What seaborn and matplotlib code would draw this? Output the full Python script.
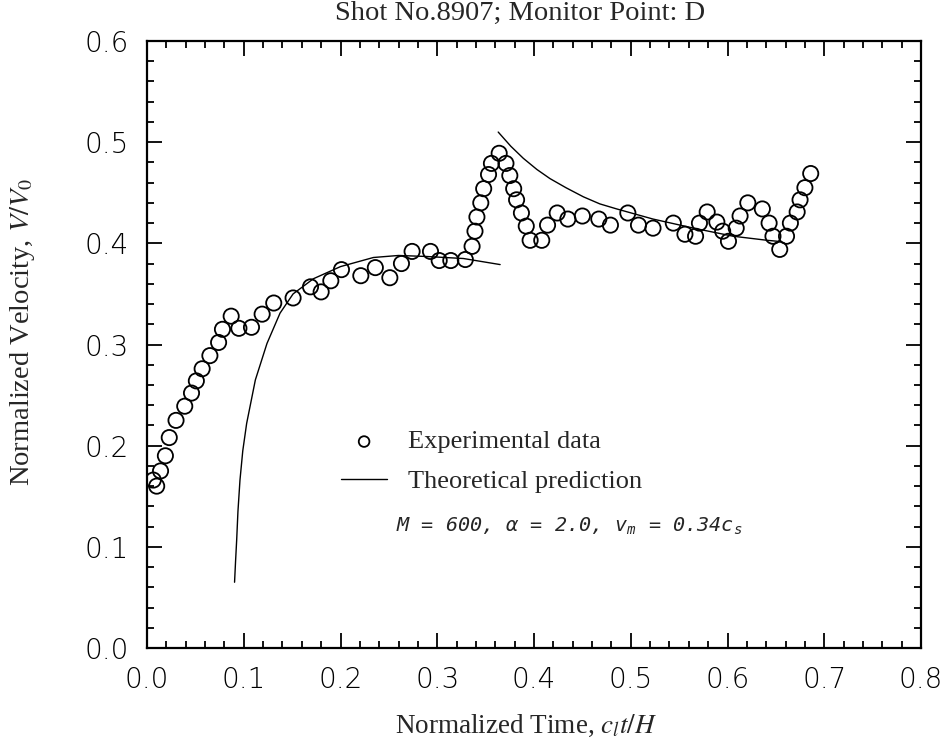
import matplotlib
matplotlib.use("Agg")
import matplotlib.pyplot as plt
import seaborn as sns
import pandas as pd
from matplotlib.ticker import MultipleLocator

# ---------------- data ----------------
exp_t = [0.0065, 0.010, 0.014, 0.019, 0.023, 0.030, 0.039, 0.046, 0.051, 0.057,
         0.065, 0.074, 0.078, 0.087, 0.095, 0.108, 0.119, 0.131, 0.151, 0.169,
         0.180, 0.190, 0.201, 0.221, 0.236, 0.251, 0.263, 0.274, 0.293, 0.302,
         0.314, 0.329, 0.336, 0.339, 0.341, 0.345, 0.348, 0.353, 0.356, 0.364,
         0.371, 0.375, 0.379, 0.382, 0.387, 0.392, 0.396, 0.408, 0.414, 0.424,
         0.435, 0.450, 0.467, 0.479, 0.497, 0.508, 0.523, 0.544, 0.556, 0.567,
         0.571, 0.579, 0.589, 0.595, 0.601, 0.609, 0.613, 0.621, 0.636, 0.643,
         0.647, 0.654, 0.661, 0.665, 0.672, 0.675, 0.680, 0.686]
exp_v = [0.166, 0.160, 0.175, 0.190, 0.208, 0.225, 0.239, 0.252, 0.264, 0.276,
         0.289, 0.302, 0.315, 0.328, 0.316, 0.317, 0.330, 0.341, 0.346, 0.357,
         0.352, 0.363, 0.374, 0.368, 0.376, 0.366, 0.380, 0.392, 0.392, 0.383,
         0.383, 0.384, 0.397, 0.412, 0.426, 0.440, 0.454, 0.468, 0.479, 0.489,
         0.479, 0.467, 0.454, 0.443, 0.430, 0.417, 0.403, 0.403, 0.418, 0.430,
         0.424, 0.427, 0.424, 0.418, 0.430, 0.418, 0.415, 0.420, 0.409, 0.407,
         0.420, 0.431, 0.421, 0.412, 0.402, 0.415, 0.427, 0.440, 0.434, 0.420,
         0.407, 0.394, 0.407, 0.420, 0.431, 0.443, 0.455, 0.469]

theory1_t = [0.0905, 0.0915, 0.0927, 0.094, 0.0961, 0.099, 0.103, 0.112, 0.124,
             0.1375, 0.151, 0.172, 0.200, 0.234, 0.260, 0.289, 0.327, 0.365]
theory1_v = [0.065, 0.085, 0.107, 0.135, 0.166, 0.195, 0.222, 0.265, 0.301,
             0.331, 0.350, 0.365, 0.377, 0.386, 0.388, 0.387, 0.385, 0.379]

theory2_t = [0.363, 0.376, 0.389, 0.403, 0.4165, 0.433, 0.451, 0.468, 0.4855,
             0.523, 0.565, 0.606, 0.641, 0.652]
theory2_v = [0.510, 0.496, 0.484, 0.473, 0.464, 0.455, 0.446, 0.439, 0.434,
             0.424, 0.415, 0.407, 0.403, 0.402]

x_ticks = [0.0, 0.1, 0.2, 0.3, 0.4, 0.5, 0.6, 0.7, 0.8]
y_ticks = [0.0, 0.1, 0.2, 0.3, 0.4, 0.5, 0.6]

title_text = "Shot No.8907; Monitor Point: D"
xlabel_text = "Normalized Time, $c_l t/H$"
ylabel_text = "Normalized Velocity, $V/V_0$"
legend_exp = "Experimental data"
legend_theory = "Theoretical prediction"
annot_text = "M = 600, α = 2.0, v$_m$ = 0.34c$_s$"

# ---------------- style ----------------
sns.set_style("ticks")
plt.rcParams["font.family"] = ["DejaVu Sans"]
plt.rcParams["mathtext.fontset"] = "stix"
plt.rcParams["mathtext.rm"] = "DejaVu Sans Mono:oblique"
plt.rcParams["mathtext.it"] = "DejaVu Sans Mono:oblique"

exp_df = pd.DataFrame({"t": exp_t, "v": exp_v})
th1_df = pd.DataFrame({"t": theory1_t, "v": theory1_v})
th2_df = pd.DataFrame({"t": theory2_t, "v": theory2_v})

fig = plt.figure(figsize=(9.48, 7.49), dpi=100)
ax = fig.add_axes([147 / 948, 1 - 648 / 749, (921 - 147) / 948, (648 - 41) / 749])

sns.scatterplot(data=exp_df, x="t", y="v", ax=ax, marker="o", s=120,
                facecolor="none", edgecolor="black", linewidth=1.3,
                label=legend_exp, zorder=3)
sns.lineplot(data=th1_df, x="t", y="v", ax=ax, sort=False, estimator=None,
             color="black", linewidth=1.0, label=legend_theory)
sns.lineplot(data=th2_df, x="t", y="v", ax=ax, sort=False, estimator=None,
             color="black", linewidth=1.0)

ax.set_xlim(0, 0.8)
ax.set_ylim(0, 0.6)
ax.set_xticks(x_ticks)
ax.set_yticks(y_ticks)
ax.set_xticklabels([f"{v:.1f}" for v in x_ticks])
ax.set_yticklabels([f"{v:.1f}" for v in y_ticks])
ax.xaxis.set_minor_locator(MultipleLocator(0.02))
ax.yaxis.set_minor_locator(MultipleLocator(0.02))
ax.tick_params(which="both", direction="in", top=True, right=True,
               color="black", width=1.3)
ax.tick_params(which="major", length=11)
ax.tick_params(which="minor", length=5)
ax.tick_params(axis="x", which="major", pad=13, labelsize=20)
ax.tick_params(axis="y", which="major", pad=13, labelsize=20)
for lbl in ax.get_xticklabels() + ax.get_yticklabels():
    lbl.set_fontweight("light")
    lbl.set_color("black")
for sp in ax.spines.values():
    sp.set_linewidth(1.6)
    sp.set_color("black")

ax.set_xlabel("")
ax.set_ylabel("")
fig.text(526 / 948, 1 - 726 / 749, xlabel_text, ha="center", va="center",
         fontsize=19.5, family="Liberation Serif")
fig.text(23 / 948, 1 - 332 / 749, ylabel_text, ha="center", va="center",
         rotation=90, fontsize=20.5, family="Liberation Serif")
fig.text(520 / 948, 1 - 13 / 749, title_text, ha="center", va="center",
         fontsize=20.5, family="Liberation Serif")

leg = ax.legend(loc="upper left", bbox_to_anchor=((341 - 147) / 774, (648 - 430) / 607),
                frameon=False, borderpad=0, borderaxespad=0, handlelength=1.75,
                handletextpad=0.8, labelspacing=0.6, markerscale=0.7,
                prop={"family": "Liberation Serif", "size": 19})

ax.text((396 - 147) / 774, (648 - 526) / 607, annot_text, transform=ax.transAxes,
        ha="left", va="center", fontsize=14.5, family="DejaVu Sans Mono",
        style="oblique", math_fontfamily="custom")

fig.savefig("out.png", dpi=100)
